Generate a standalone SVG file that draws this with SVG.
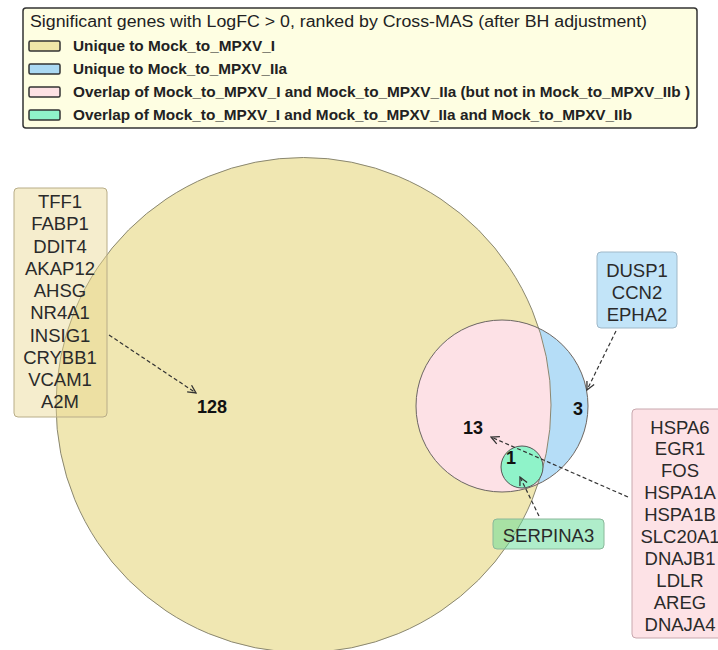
<svg xmlns="http://www.w3.org/2000/svg" width="718" height="650" viewBox="0 0 718 650">
<style>
.lg{font-family:"Liberation Sans",Arial,sans-serif;font-size:15px;font-weight:bold;fill:#222}
.tt{font-family:"Liberation Sans",Arial,sans-serif;font-size:16px;fill:#222}
.gn{font-family:"Liberation Sans",Arial,sans-serif;font-size:18.5px;fill:#2a2a2a;text-anchor:middle}
.num{font-family:"Liberation Sans",Arial,sans-serif;font-size:18px;font-weight:bold;fill:#111;text-anchor:middle}
.sw{stroke:#333;stroke-width:1.5}
.conn{stroke:#333;stroke-width:1.2;stroke-dasharray:4 2.5;fill:none;marker-end:url(#ah)}
</style>
<defs>
<marker id="ah" viewBox="0 0 10 10" refX="9" refY="5" markerWidth="10" markerHeight="10" markerUnits="userSpaceOnUse" orient="auto">
<path d="M1,1 L9,5 L1,9" fill="none" stroke="#333" stroke-width="1.3"/>
</marker>
<clipPath id="clipI"><circle cx="303.5" cy="405" r="247.5"/></clipPath>
</defs>
<rect width="718" height="650" fill="#ffffff"/>

<g id="legend">
<rect x="23" y="8" width="674" height="120" rx="3" fill="#fefee2" stroke="#333" stroke-width="1.5"/>
<text class="tt" x="30" y="27" textLength="617" lengthAdjust="spacingAndGlyphs">Significant genes with LogFC &gt; 0, ranked by Cross-MAS (after BH adjustment)</text>
<rect class="sw" x="29" y="41" width="31" height="10" rx="1.5" fill="#f0e6a8"/>
<text class="lg" x="73" y="51" textLength="202" lengthAdjust="spacingAndGlyphs">Unique to Mock_to_MPXV_I</text>
<rect class="sw" x="29" y="64" width="31" height="10" rx="1.5" fill="#abd9f3"/>
<text class="lg" x="73" y="74" textLength="214" lengthAdjust="spacingAndGlyphs">Unique to Mock_to_MPXV_IIa</text>
<rect class="sw" x="29" y="87" width="31" height="10" rx="1.5" fill="#fde1e4"/>
<text class="lg" x="73" y="97" textLength="617" lengthAdjust="spacingAndGlyphs">Overlap of Mock_to_MPXV_I and Mock_to_MPXV_IIa (but not in Mock_to_MPXV_IIb )</text>
<rect class="sw" x="29" y="110" width="31" height="10" rx="1.5" fill="#8ff3c9"/>
<text class="lg" x="73" y="120" textLength="559" lengthAdjust="spacingAndGlyphs">Overlap of Mock_to_MPXV_I and Mock_to_MPXV_IIa and Mock_to_MPXV_IIb</text>
</g>

<g id="venn">
<circle id="setI" cx="303.5" cy="405" r="247.5" fill="#f0e7b2"/>
<circle id="setIIa" cx="502" cy="406" r="86" fill="#b5ddf7"/>
<circle cx="502" cy="406" r="86" fill="#fde1e6" clip-path="url(#clipI)"/>
<circle cx="303.5" cy="405" r="247.5" fill="none" stroke="#8a8770" stroke-width="1"/>
<circle cx="502" cy="406" r="86" fill="none" stroke="#6e6660" stroke-width="1"/>
<circle id="setAll" cx="522" cy="467" r="21" fill="#8ff3c9" stroke="#555" stroke-width="1"/>
<text class="num" x="212" y="413">128</text>
<text class="num" x="578" y="415">3</text>
<text class="num" x="473" y="434">13</text>
<text class="num" x="511" y="464">1</text>
</g>

<g id="box-I">
<rect x="14" y="188" width="93" height="229" rx="4" fill="#e8d890" fill-opacity="0.45" stroke="#b8ad88" stroke-width="1"/>
<text class="gn" x="60" y="208">TFF1</text>
<text class="gn" x="60" y="230.2">FABP1</text>
<text class="gn" x="60" y="252.5">DDIT4</text>
<text class="gn" x="60" y="274.7">AKAP12</text>
<text class="gn" x="60" y="297">AHSG</text>
<text class="gn" x="60" y="319.2">NR4A1</text>
<text class="gn" x="60" y="341.5">INSIG1</text>
<text class="gn" x="60" y="363.7">CRYBB1</text>
<text class="gn" x="60" y="386">VCAM1</text>
<text class="gn" x="60" y="408.2">A2M</text>
</g>

<g id="box-IIa">
<rect x="597" y="252" width="80" height="76" rx="4" fill="#c2e4f8" stroke="#9fb8c8" stroke-width="1"/>
<text class="gn" x="637" y="276.5">DUSP1</text>
<text class="gn" x="637" y="298.5">CCN2</text>
<text class="gn" x="637" y="320.5">EPHA2</text>
</g>

<g id="box-overlap">
<rect x="632" y="409" width="96" height="229" rx="4" fill="#fde2e6" stroke="#c8a8ae" stroke-width="1"/>
<text class="gn" x="680" y="433.5">HSPA6</text>
<text class="gn" x="680" y="455.4">EGR1</text>
<text class="gn" x="680" y="477.3">FOS</text>
<text class="gn" x="680" y="499.2">HSPA1A</text>
<text class="gn" x="680" y="521.1">HSPA1B</text>
<text class="gn" x="680" y="543">SLC20A1</text>
<text class="gn" x="680" y="564.9">DNAJB1</text>
<text class="gn" x="680" y="586.8">LDLR</text>
<text class="gn" x="680" y="608.7">AREG</text>
<text class="gn" x="680" y="630.6">DNAJA4</text>
</g>

<g id="box-all">
<rect x="493" y="519" width="111" height="30" rx="4" fill="#5fdc95" fill-opacity="0.5" stroke="#8ab89a" stroke-width="1"/>
<text class="gn" x="548.5" y="541.5">SERPINA3</text>
</g>

<g id="connectors">
<line class="conn" x1="109" y1="335" x2="196" y2="393"/>
<line class="conn" x1="616" y1="331" x2="587" y2="390"/>
<line class="conn" x1="628" y1="497" x2="491" y2="437"/>
<line class="conn" x1="539" y1="516" x2="520" y2="477"/>
</g>
</svg>
